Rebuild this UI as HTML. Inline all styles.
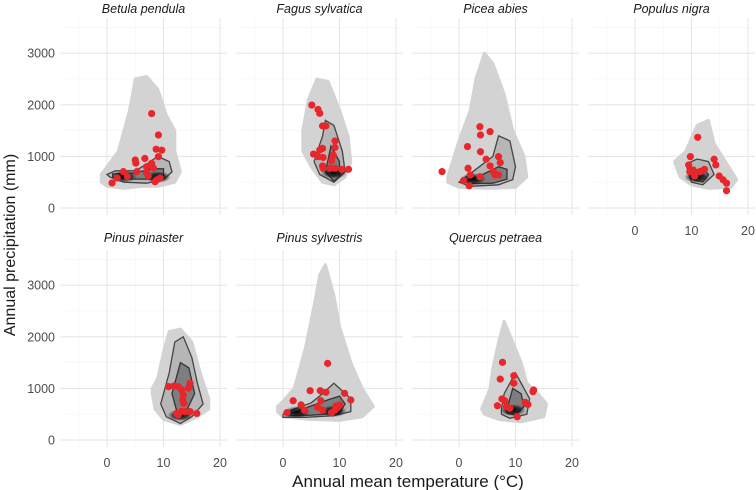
<!DOCTYPE html>
<html><head><meta charset="utf-8"><style>
body{margin:0;background:#fff;}
svg{display:block;font-family:"Liberation Sans",sans-serif;}
</style></head><body>
<svg id="chart" width="756" height="490" viewBox="0 0 756 490">
<defs>
<radialGradient id="core"><stop offset="0" stop-color="#000" stop-opacity="0.95"/><stop offset="0.6" stop-color="#111" stop-opacity="0.7"/><stop offset="1" stop-color="#333" stop-opacity="0"/></radialGradient>
</defs>
<g id="root"></g>
<text x="408" y="487" text-anchor="middle" font-size="17" fill="#1a1a1a">Annual mean temperature (°C)</text>
<text transform="translate(15,245) rotate(-90)" text-anchor="middle" font-size="16" fill="#1a1a1a">Annual precipitation (mm)</text>
</svg>
<script>
const species=["Betula pendula","Fagus sylvatica","Picea abies","Populus nigra","Pinus pinaster","Pinus sylvestris","Quercus petraea"];
const xTicks=[0,10,20];
const yTicks=[0,1000,2000,3000];
const clouds=[
[[-1,500],[0,420],[3,380],[6,420],[9,420],[12,500],[13,700],[12,1100],[12,1500],[10.5,1800],[9,2300],[7,2550],[5,2500],[4,1900],[3,1500],[2,1100],[0,800],[-1,650]],
[[3.5,1500],[4.5,2100],[6,2500],[8,2450],[10,1900],[11.5,1400],[12,900],[11,600],[9,450],[7,500],[5,800],[3.5,1100]],
[[-2,600],[0,1300],[2,1900],[3,2500],[4.5,3000],[6,2800],[8,2200],[9.5,1500],[11.5,1000],[12,600],[10,400],[5,380],[0,400],[-2,500]],
[[7,900],[9,1100],[11,1600],[13,1700],[14,1250],[16,900],[18,550],[17,400],[13,380],[10,450],[8,600]],
[[8,1000],[9,1200],[10,1700],[11,2100],[13,2150],[15,1900],[16.5,1300],[18,800],[18,600],[16,450],[13,300],[10,400],[8.5,600],[8,900]],
[[-1,550],[0,450],[5,400],[10,380],[14,450],[16,650],[14,1000],[12,1500],[10,2200],[9,2800],[7.5,3400],[6.5,3200],[5.5,2600],[4,1800],[2,1000],[0,750],[-1,650]],
[[4,600],[5.5,1000],[6,1400],[7,1900],[8,2300],[9.5,1900],[11,1500],[12,1100],[14,900],[15.5,700],[15,450],[11,350],[7,400],[4.5,500]]
];
const contoursOuter=[
[[0.5,600],[3,500],[7,480],[10,550],[11.5,700],[11,900],[9,1000],[7,850],[5,720],[1.5,720],[0,650]],
[[5.5,900],[7,1400],[7.5,1700],[9,1600],[10.5,1100],[11,700],[9,500],[6.5,650]],
[[0,500],[3,750],[6,1000],[7,1400],[9,1300],[10,800],[9.5,550],[7,450],[2,420]],
[[9,850],[11,950],[13,900],[14,650],[12,450],[10,500]],
[[9.5,700],[11,1300],[12,1900],[13.5,2000],[15,1600],[16,1100],[17,700],[15,450],[13,320],[10.5,450]],
[[0,500],[2,600],[5,720],[7,900],[9,1100],[10,1000],[12,800],[12,550],[9,470],[4,440],[0,440]],
[[7.5,600],[8,900],[10,1300],[11.5,1000],[12.5,800],[12,500],[9,420],[7.5,500]]
];
const contoursInner=[
[[1,600],[4,560],[8,560],[10,620],[10,760],[8,760],[5,680],[1,660]],
[[7.5,700],[8.5,1200],[10,900],[10,600],[9,520]],
[[1,520],[4,640],[7,800],[8.5,750],[8.5,560],[6,480],[2,470]],
[[10,700],[12,780],[13,650],[12,500],[10.5,540]],
[[11.5,900],[13,1500],[14.5,1400],[15.5,900],[14,550],[12.5,500]],
[[1,500],[4,620],[8,780],[10,850],[11,700],[10,520],[5,480],[1,470]],
[[8.5,600],[9.5,1000],[11,900],[11.5,650],[10,480],[8.5,520]]
];
const cores=[[[3,610],[9,600]],[[9,680]],[[2.5,560]],[[11,600]],[[13,480]],[[2.5,540],[9,560]],[[9.5,580]]];
const redT=[
[7.9,9.1,8.7,9.7,9.1,6.7,5.0,5.1,7.9,7.0,8.2,5.3,7.0,2.9,1.8,3.6,0.9,8.8,9.4,8.5,7.3],
[5.1,6.2,6.5,7.0,7.6,9.2,7.0,6.5,5.4,9.2,8.9,7.1,8.6,7.0,8.3,9.2,10.4,11.6,7.1,6.2],
[3.7,5.5,3.8,1.5,3.8,4.8,7.0,7.3,5.5,1.6,-3.0,2.0,3.7,6.1,6.4,7.0,0.8,1.8],
[11.1,9.8,14.0,14.3,9.5,10.3,12.3,11.5,9.7,10.6,14.9,15.6,16.2,16.2],
[10.9,11.8,12.6,14.7,14.4,13.2,13.5,13.4,13.6,12.3,13.2,13.8,14.7,15.9,12.6],
[7.9,4.8,6.6,7.6,10.9,12.0,1.8,3.2,3.8,0.7,6.1,6.7,7.0,9.4,10.0,9.2,8.6,9.7],
[7.7,7.3,9.7,9.7,13.2,13.1,7.6,8.1,11.7,6.8,8.4,9.0,10.3,12.2]
];
const redP=[
[1830,1415,1140,1120,995,960,930,870,865,800,775,705,680,705,580,610,485,545,580,510,620],
[1995,1910,1835,1590,1590,1300,1155,1125,1045,1175,1025,980,915,815,770,770,750,750,770,995],
[1575,1480,1415,1190,1090,945,995,880,815,770,705,640,605,705,640,640,530,430],
[1370,995,945,835,835,735,750,705,705,620,620,545,480,335],
[1035,1045,1035,1100,1005,970,870,775,710,515,555,550,550,515,485],
[1485,955,955,925,905,775,760,680,580,530,635,760,580,660,680,580,530,635],
[1505,1180,1245,1100,970,935,795,760,730,665,645,615,450,690]
];
const NS="http://www.w3.org/2000/svg";
const root=document.getElementById('root');
function mk(tag,attrs,parent){const e=document.createElementNS(NS,tag);for(const k in attrs)e.setAttribute(k,attrs[k]);(parent||root).appendChild(e);return e;}
const PW=167,PX0=60,GAP=176,XS=5.65,YS=0.0516;
function panelPos(i){return {col:i%4,row:Math.floor(i/4)};}
function sx(i,T){return 107+GAP*panelPos(i).col+T*XS;}
function sy(i,P){return (panelPos(i).row?440:208)-P*YS;}
function pts(i,arr){return arr.map(p=>sx(i,p[0]).toFixed(1)+","+sy(i,p[1]).toFixed(1)).join(" ");}
species.forEach((name,i)=>{
  const {col,row}=panelPos(i);
  const left=PX0+GAP*col, top=row?250:18, bottom=row?447:215;
  const g=mk('g',{});
  
  
  [-5,5,15].forEach(t=>{const l=mk('line',{x1:sx(i,t),x2:sx(i,t),y1:top,y2:bottom,stroke:'#f4f4f4','stroke-width':0.6},g);});
  [500,1500,2500,3500].forEach(p=>{const l=mk('line',{x1:left,x2:left+PW,y1:sy(i,p),y2:sy(i,p),stroke:'#f4f4f4','stroke-width':0.6},g);});
  xTicks.forEach(t=>{const l=mk('line',{x1:sx(i,t),x2:sx(i,t),y1:top,y2:bottom,stroke:'#e6e6e6','stroke-width':1.1},g);});
  yTicks.forEach(p=>{const l=mk('line',{x1:left,x2:left+PW,y1:sy(i,p),y2:sy(i,p),stroke:'#e6e6e6','stroke-width':1.1},g);});
  const st=mk('text',{x:left+PW/2,y:row?242:13,'text-anchor':'middle','font-size':12.5,'font-style':'italic',fill:'#1a1a1a'},g);
  st.textContent=name;
  
  
  const c=mk('polygon',{points:pts(i,clouds[i]),fill:'#d3d3d3',stroke:'#d3d3d3','stroke-width':3,'stroke-linejoin':'round'},g);
  
  
  const o=mk('polygon',{points:pts(i,contoursOuter[i]),fill:'#444','fill-opacity':0.2,stroke:'#444','stroke-width':1.3},g);
  
  
  const n=mk('polygon',{points:pts(i,contoursInner[i]),fill:'#2a2a2a','fill-opacity':0.4,stroke:'#333','stroke-width':1.3},g);
  
  
  cores[i].forEach(p=>{const e=mk('ellipse',{cx:sx(i,p[0]),cy:sy(i,p[1]),rx:13,ry:6,fill:'url(#core)'},g);});
  redT[i].forEach((t,j)=>{const d=mk('circle',{cx:sx(i,t),cy:sy(i,redP[i][j]),r:3.6,fill:'#e8262b'},g);});
  if(col===0){yTicks.forEach(p=>{const tx=mk('text',{x:55,y:sy(i,p)+4.5,'text-anchor':'end','font-size':12.5,fill:'#4d4d4d'},g);tx.textContent=p;});}
  if(row===1||col===3){xTicks.forEach(t=>{const tx=mk('text',{x:sx(i,t),y:bottom+20,'text-anchor':'middle','font-size':12.5,fill:'#4d4d4d'},g);tx.textContent=t;});}
});
</script>
</body></html>
